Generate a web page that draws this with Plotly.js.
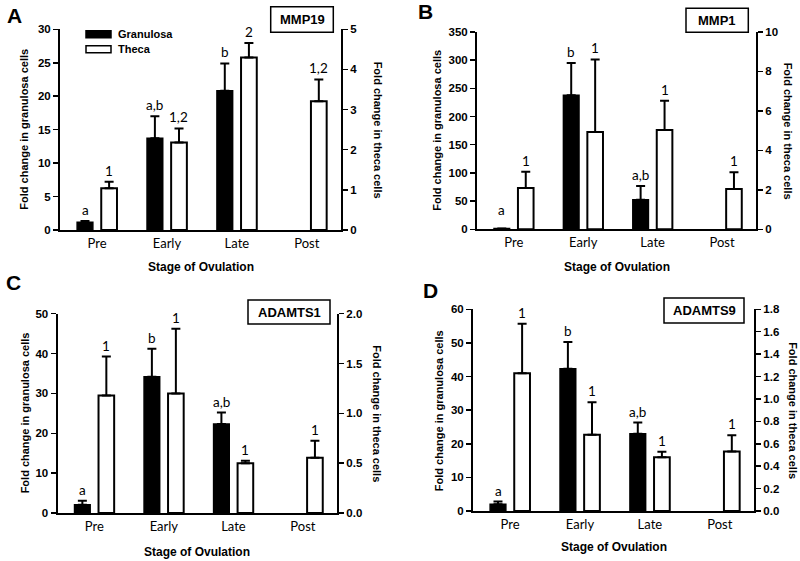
<!DOCTYPE html>
<html>
<head>
<meta charset="utf-8">
<script src="https://cdn.plot.ly/plotly-3.0.1.min.js"></script>
<style>html,body{margin:0;padding:0;background:#fff;}#chart{width:800px;height:561px;}</style>
</head>
<body>
<div id="chart"></div>
<script>
// ---------- DATA ----------
const stages = ['Pre', 'Early', 'Late', 'Post'];
const seriesNames = ['Granulosa', 'Theca'];
const panelLetters = ['A', 'B', 'C', 'D'];
const genes = ['MMP19', 'MMP1', 'ADAMTS1', 'ADAMTS9'];

const mmp19Gran = [1.15, 13.7, 20.8, null];
const mmp19GranErr = [0.2, 3.3, 4.1, null];
const mmp19Theca = [1.04, 2.18, 4.30, 3.21];
const mmp19ThecaErr = [0.16, 0.35, 0.36, 0.54];
const mmp19GranLbl = ['a', 'a,b', 'b', ''];
const mmp19ThecaLbl = ['1', '1,2', '2', '1,2'];

const mmp1Gran = [1.2, 238, 52.6, null];
const mmp1GranErr = [0, 57, 24, null];
const mmp1Theca = [2.09, 4.93, 5.03, 2.04];
const mmp1ThecaErr = [0.83, 3.68, 1.49, 0.85];
const mmp1GranLbl = ['a', 'b', 'a,b', ''];
const mmp1ThecaLbl = ['1', '1', '1', '1'];

const adamts1Gran = [2.1, 34.2, 22.3, null];
const adamts1GranErr = [1.0, 7.0, 2.9, null];
const adamts1Theca = [1.18, 1.20, 0.50, 0.555];
const adamts1ThecaErr = [0.39, 0.65, 0.025, 0.17];
const adamts1GranLbl = ['a', 'b', 'a,b', ''];
const adamts1ThecaLbl = ['1', '1', '1', '1'];

const adamts9Gran = [2.0, 42.3, 23.0, null];
const adamts9GranErr = [0.8, 8.0, 3.3, null];
const adamts9Theca = [1.23, 0.68, 0.48, 0.53];
const adamts9ThecaErr = [0.44, 0.29, 0.048, 0.146];
const adamts9GranLbl = ['a', 'b', 'a,b', ''];
const adamts9ThecaLbl = ['1', '1', '1', '1'];

const leftTicks = [[0, 30, 5], [0, 350, 50], [0, 50, 10], [0, 60, 10]];
const rightTicks = [[0, 5, 1], [0, 10, 2], [0, 2, 0.5], [0, 1.8, 0.2]];
const rightFormat = ['d', 'd', '.1f', '.1f'];

const yTitleLeft = 'Fold change in granulosa cells';
const yTitleRight = 'Fold change in theca cells';
const xTitle = 'Stage of Ovulation';

// ---------- LAYOUT GEOMETRY (px) ----------
const W = 800, H = 561;
const px = x => x / W;
const py = y => 1 - y / H;
const geo = [
  {x0: 60, x1: 341, y0: 29.3, y1: 230, lt: 24, rt: 378, xt: 267, let: [14.5, 15.5], box: [270.7, 6.7, 333.3, 32.3]},
  {x0: 477, x1: 756, y0: 32, y1: 229.3, lt: 437, rt: 788, xt: 267, let: [425, 11.5], box: [686, 8.3, 748.3, 32.3]},
  {x0: 57.5, x1: 337, y0: 313.7, y1: 513, lt: 25, rt: 377, xt: 551.7, let: [13, 282], box: [248, 300, 330, 324]},
  {x0: 473, x1: 754, y0: 309.3, y1: 511, lt: 439, rt: 793, xt: 546.7, let: [430, 290], box: [664, 298, 744, 323]}
];

const panels = [
  [mmp19Gran, mmp19GranErr, mmp19Theca, mmp19ThecaErr, mmp19GranLbl, mmp19ThecaLbl],
  [mmp1Gran, mmp1GranErr, mmp1Theca, mmp1ThecaErr, mmp1GranLbl, mmp1ThecaLbl],
  [adamts1Gran, adamts1GranErr, adamts1Theca, adamts1ThecaErr, adamts1GranLbl, adamts1ThecaLbl],
  [adamts9Gran, adamts9GranErr, adamts9Theca, adamts9ThecaErr, adamts9GranLbl, adamts9ThecaLbl]
];

const SANS = 'Liberation Sans, Arial, sans-serif';
const SOFT = 'Lato, Carlito, Open Sans, sans-serif';
const BAR_W = 0.225, OFF_G = -0.285, OFF_T = 0.06;

const traces = [];
const layout = {
  width: W, height: H, autosize: false,
  margin: {l: 0, r: 0, t: 0, b: 0},
  paper_bgcolor: '#fff', plot_bgcolor: 'rgba(0,0,0,0)',
  showlegend: false, barmode: 'overlay',
  annotations: [], shapes: []
};

panels.forEach((p, i) => {
  const [gv, ge, tv, te, gl, tl] = p;
  const g = geo[i];
  const xid = i === 0 ? 'x' : 'x' + (i + 1);
  const yl = 2 * i + 1, yr = 2 * i + 2;
  const ylid = yl === 1 ? 'y' : 'y' + yl;
  const yrid = 'y' + yr;
  const xkey = i === 0 ? 'xaxis' : 'xaxis' + (i + 1);
  const ylkey = yl === 1 ? 'yaxis' : 'yaxis' + yl;
  const yrkey = 'yaxis' + yr;

  traces.push({
    type: 'bar', name: seriesNames[0], x: stages, y: gv, xaxis: xid, yaxis: ylid,
    width: BAR_W, offset: OFF_G,
    marker: {color: '#000', line: {color: '#000', width: 1.5}},
    error_y: {type: 'data', symmetric: false, array: ge, arrayminus: ge.map(() => 0),
      color: '#000', thickness: 2, width: 4.5}
  });
  traces.push({
    type: 'bar', name: seriesNames[1], x: stages, y: tv, xaxis: xid, yaxis: yrid,
    width: BAR_W, offset: OFF_T,
    marker: {color: '#fff', line: {color: '#000', width: 2}},
    error_y: {type: 'data', symmetric: false, array: te, arrayminus: te.map(() => 0),
      color: '#000', thickness: 2, width: 4.5}
  });

  layout[xkey] = {
    domain: [px(g.x0), px(g.x1)], anchor: ylid, type: 'category',
    range: [-0.53, 3.49], showline: true, linecolor: '#000', linewidth: 2,
    ticks: '', showgrid: false, zeroline: false,
    tickfont: {family: SOFT, size: 13, color: '#000'}, fixedrange: true
  };
  const [l0, l1, ld] = leftTicks[i];
  layout[ylkey] = {
    domain: [py(g.y1), py(g.y0)], anchor: xid, range: [l0, l1], dtick: ld, tick0: 0,
    showline: true, linecolor: '#000', linewidth: 2, ticks: 'outside', ticklen: 5,
    tickwidth: 1.5, tickcolor: '#000', showgrid: false, zeroline: false,
    tickfont: {family: SANS, size: 11.5, color: '#000', weight: 'bold'}
  };
  const [r0, r1, rd] = rightTicks[i];
  layout[yrkey] = {
    overlaying: ylid, side: 'right', anchor: xid, range: [r0, r1], dtick: rd, tick0: 0,
    tickformat: rightFormat[i],
    showline: true, linecolor: '#000', linewidth: 2, ticks: 'outside', ticklen: 5,
    tickwidth: 1.5, tickcolor: '#000', showgrid: false, zeroline: false,
    tickfont: {family: SANS, size: 11.5, color: '#000', weight: 'bold'}
  };

  // significance letters
  const minG = (l1 - l0) * 0.04, minT = (r1 - r0) * 0.04;
  stages.forEach((s, k) => {
    if (gl[k]) {
      const top = Math.max((gv[k] || 0) + (ge[k] || 0), minG);
      layout.annotations.push({xref: xid, yref: ylid, x: s, y: top, xshift: -12, yshift: 1,
        text: gl[k], showarrow: false, yanchor: 'bottom',
        font: {family: SOFT, size: 13.5, color: '#000'}});
    }
    if (tl[k]) {
      const top = Math.max((tv[k] || 0) + (te[k] || 0), minT);
      layout.annotations.push({xref: xid, yref: yrid, x: s, y: top, xshift: 12, yshift: 1,
        text: tl[k], showarrow: false, yanchor: 'bottom',
        font: {family: SOFT, size: 13.5, color: '#000'}});
    }
  });

  // axis titles
  const midY = py((g.y0 + g.y1) / 2);
  layout.annotations.push({xref: 'paper', yref: 'paper', x: px(g.lt), y: midY, textangle: -90,
    text: yTitleLeft, showarrow: false, xanchor: 'center', yanchor: 'middle',
    font: {family: SANS, size: 11, color: '#000', weight: 'bold'}});
  layout.annotations.push({xref: 'paper', yref: 'paper', x: px(g.rt), y: midY, textangle: 90,
    text: yTitleRight, showarrow: false, xanchor: 'center', yanchor: 'middle',
    font: {family: SANS, size: 11, color: '#000', weight: 'bold'}});
  layout.annotations.push({xref: 'paper', yref: 'paper', x: px((g.x0 + g.x1) / 2), y: py(g.xt),
    text: xTitle, showarrow: false, xanchor: 'center', yanchor: 'middle',
    font: {family: SANS, size: 12, color: '#000', weight: 'bold'}});

  // panel letter
  layout.annotations.push({xref: 'paper', yref: 'paper', x: px(g.let[0]), y: py(g.let[1]),
    text: panelLetters[i], showarrow: false, xanchor: 'center', yanchor: 'middle',
    font: {family: SANS, size: 21, color: '#000', weight: 'bold'}});

  // gene box
  const b = g.box;
  layout.shapes.push({type: 'rect', xref: 'paper', yref: 'paper', x0: px(b[0]), x1: px(b[2]),
    y0: py(b[3]), y1: py(b[1]), line: {color: '#000', width: 1.5}, fillcolor: '#fff'});
  layout.annotations.push({xref: 'paper', yref: 'paper', x: px((b[0] + b[2]) / 2), y: py((b[1] + b[3]) / 2),
    text: genes[i], showarrow: false, xanchor: 'center', yanchor: 'middle',
    font: {family: SANS, size: 13, color: '#000', weight: 'bold'}});
});

// legend (panel A)
layout.shapes.push({type: 'rect', xref: 'paper', yref: 'paper', x0: px(86), x1: px(111), y0: py(37.7), y1: py(30.7),
  line: {color: '#000', width: 1.5}, fillcolor: '#000'});
layout.shapes.push({type: 'rect', xref: 'paper', yref: 'paper', x0: px(86), x1: px(111), y0: py(52.7), y1: py(45.7),
  line: {color: '#000', width: 1.5}, fillcolor: '#fff'});
layout.annotations.push({xref: 'paper', yref: 'paper', x: px(116), y: py(34.2), text: seriesNames[0],
  showarrow: false, xanchor: 'left', yanchor: 'middle', font: {family: SANS, size: 11, color: '#000', weight: 'bold'}});
layout.annotations.push({xref: 'paper', yref: 'paper', x: px(116), y: py(49.2), text: seriesNames[1],
  showarrow: false, xanchor: 'left', yanchor: 'middle', font: {family: SANS, size: 11, color: '#000', weight: 'bold'}});

Plotly.newPlot('chart', traces, layout, {staticPlot: true, displayModeBar: false});
</script>
</body>
</html>
